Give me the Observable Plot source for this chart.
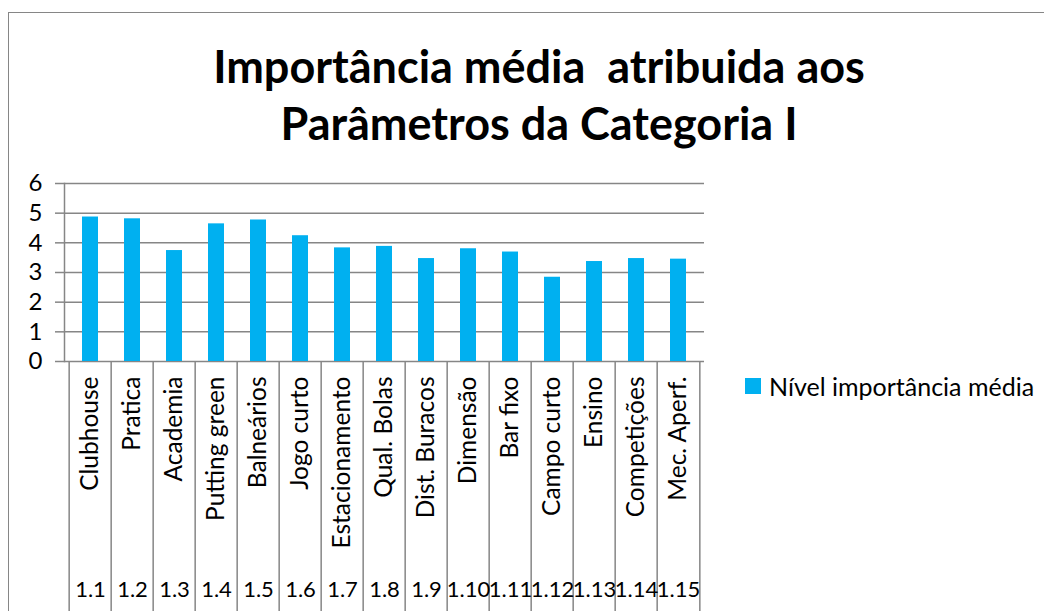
<!DOCTYPE html>
<html>
<head>
<meta charset="utf-8">
<script src="https://cdn.jsdelivr.net/npm/d3@7"></script>
<script src="https://cdn.jsdelivr.net/npm/@observablehq/plot@0.6"></script>
<style>
  html, body { margin: 0; padding: 0; background: #fff; overflow: hidden; }
  #wrap { position: relative; width: 1044px; height: 611px; overflow: hidden; font-family: Lato, "Open Sans", sans-serif; }
  #border { position: absolute; left: 8px; top: 12px; width: 1100px; height: 700px; border-left: 1.5px solid #868686; border-top: 1.5px solid #868686; }
  #title { position: absolute; left: 89px; top: 38px; width: 900px; text-align: center; font-weight: 700; font-size: 45px; line-height: 57px; color: #000; }
  #plot { position: absolute; left: 0; top: 0; }
  #legend { position: absolute; left: 745px; top: 371px; display: flex; align-items: center; font-size: 25px; color: #000; white-space: nowrap; }
  #legend .sw { width: 16px; height: 16px; background: #00B0F0; margin-right: 8px; }
</style>
</head>
<body>
<div id="wrap">
  <div id="border"></div>
  <div id="title">Importância média&nbsp; atribuida aos<br>Parâmetros da Categoria I</div>
  <div id="plot"></div>
  <div id="legend"><div class="sw"></div><span id="legendText"></span></div>
</div>
<script>
const categories = ["Clubhouse", "Pratica", "Academia", "Putting green", "Balneários", "Jogo curto", "Estacionamento", "Qual. Bolas", "Dist. Buracos", "Dimensão", "Bar fixo", "Campo curto", "Ensino", "Competições", "Mec. Aperf."];
const codes = ["1.1", "1.2", "1.3", "1.4", "1.5", "1.6", "1.7", "1.8", "1.9", "1.10", "1.11", "1.12", "1.13", "1.14", "1.15"];
const values = [4.87, 4.81, 3.74, 4.64, 4.77, 4.24, 3.83, 3.88, 3.47, 3.80, 3.69, 2.84, 3.37, 3.47, 3.45];
const yTicks = [0, 1, 2, 3, 4, 5, 6];
const seriesName = "Nível importância média";

const data = categories.map((c, i) => ({category: c, code: codes[i], value: values[i]}));
const codeOf = new Map(data.map(d => [d.category, d.code]));

const W = 1044, H = 611;
const mL = 64, mR = 340, mT = 183, mB = 250;
const step = (W - mL - mR) / categories.length;
const grid = "#868686";

const chart = Plot.plot({
  width: W,
  height: H,
  marginLeft: mL,
  marginRight: mR,
  marginTop: mT,
  marginBottom: mB,
  style: {fontFamily: "Lato, 'Open Sans', sans-serif", color: "#000", background: "transparent", overflow: "visible"},
  x: {domain: categories, paddingInner: 0.62, paddingOuter: 0.31, label: null},
  y: {domain: [0, 6], label: null},
  marks: [
    Plot.ruleY(yTicks, {stroke: grid, strokeWidth: 1.5}),
    Plot.frame({anchor: "left", stroke: grid, strokeWidth: 1.5}),
    Plot.barY(data, {x: "category", y: "value", fill: "#00B0F0"}),
    Plot.axisY({ticks: yTicks, tickFormat: d => String(d), tickSize: 9, tickPadding: 13, fontSize: 24, stroke: grid, strokeWidth: 1.5, label: null}),
    // category separators (band edges) extending down to the bottom
    Plot.axisX({tickSize: mB, dx: -step / 2, text: null, stroke: grid, strokeWidth: 1.5, strokeOpacity: 1, label: null}),
    Plot.axisX([categories[categories.length - 1]], {tickSize: mB, dx: step / 2, text: null, stroke: grid, strokeWidth: 1.5, strokeOpacity: 1, label: null}),
    // category names, rotated
    Plot.axisX({tickSize: 0, tickPadding: 15, tickRotate: -90, fontSize: 24.5, label: null}),
    // codes
    Plot.axisX({tickSize: 0, tickPadding: 220, tickFormat: d => codeOf.get(d), fontSize: 22, label: null})
  ]
});
document.getElementById("plot").appendChild(chart);
document.getElementById("legendText").textContent = seriesName;
</script>
</body>
</html>
